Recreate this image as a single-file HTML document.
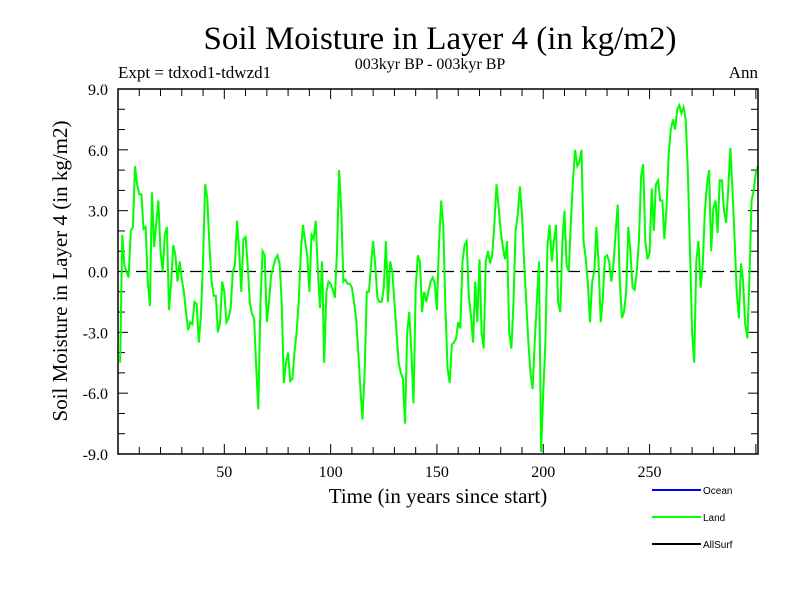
<!DOCTYPE html>
<html><head><meta charset="utf-8"><style>
html,body{margin:0;padding:0;background:#fff;}
svg text{font-family:"Liberation Serif",serif;}
</style></head><body>
<svg id="chart" width="800" height="600" viewBox="0 0 800 600" xmlns="http://www.w3.org/2000/svg">
<text x="440" y="49" font-size="33" text-anchor="middle">Soil Moisture in Layer 4 (in kg/m2)</text>
<text x="118" y="78" font-size="17">Expt = tdxod1-tdwzd1</text>
<text x="430" y="69" font-size="16" text-anchor="middle">003kyr BP - 003kyr BP</text>
<text x="758" y="78" font-size="17" text-anchor="end">Ann</text>
<g id="ticks"></g>
<g id="plot"></g>
<rect x="118" y="89" width="640" height="365" fill="none" stroke="#000" stroke-width="1.5"/>
<text x="438" y="503" font-size="21" text-anchor="middle">Time (in years since start)</text>
<text transform="translate(67,271) rotate(-90)" font-size="21" text-anchor="middle">Soil Moisture in Layer 4 (in kg/m2)</text>
<g>
<g><line x1="652" y1="490" x2="701" y2="490" stroke="#0000ff" stroke-width="2"/><text x="703" y="494" font-size="10" style="font-family:'Liberation Sans',sans-serif">Ocean</text></g>
<g><line x1="652" y1="517" x2="701" y2="517" stroke="#00ff00" stroke-width="2"/><text x="703" y="521" font-size="10" style="font-family:'Liberation Sans',sans-serif">Land</text></g>
<g><line x1="652" y1="544" x2="701" y2="544" stroke="#000" stroke-width="2"/><text x="703" y="548" font-size="10" style="font-family:'Liberation Sans',sans-serif">AllSurf</text></g>
</g>
</svg>
<script>
const yTickValues=[-9,-6,-3,0,3,6,9];
const yTickLabels=["-9.0","-6.0","-3.0","0.0","3.0","6.0","9.0"];
const xTickValues=[50,100,150,200,250];
const xTickLabels=["50","100","150","200","250"];
const landValues=[
-4.5,1.8,0.3,0.0,-0.3,2.0,2.2,5.2,4.3,3.8,3.8,2.1,2.2,-0.5,-1.7,3.9,1.2,2.4,3.5,1.0,
0.0,1.8,2.2,-1.9,-0.5,1.3,0.8,-0.5,0.5,-0.4,-1.0,-2.0,-2.9,-2.5,-2.6,-1.5,-1.6,-3.5,-2.2,0.5,
4.3,3.6,1.3,-0.5,-1.2,-1.2,-3.0,-2.5,-0.5,-1.0,-2.5,-2.3,-1.8,0.0,0.3,2.5,1.0,-1.0,1.6,1.7,
0.3,-1.5,-2.1,-2.3,-4.7,-6.8,-1.5,1.0,0.8,-2.5,-1.5,-0.2,0.2,0.6,0.8,0.4,-1.5,-5.5,-4.5,-4.0,
-5.4,-5.3,-4.0,-3.0,-1.5,1.0,2.3,1.5,0.8,-1.0,1.8,1.6,2.5,0.0,-1.8,0.5,-4.5,-1.0,-0.5,-0.6,
-0.9,-1.3,1.0,5.0,3.0,-0.5,-0.4,-0.6,-0.6,-0.8,-1.5,-2.3,-4.0,-5.8,-7.3,-5.0,-1.0,-1.0,0.3,1.5,
0.3,-1.3,-1.5,-1.5,-0.8,1.5,-1.5,0.5,0.0,-1.5,-3.0,-4.5,-5.0,-5.3,-7.5,-3.0,-2.0,-4.0,-6.5,-0.8,
0.8,0.5,-2.0,-1.0,-1.5,-1.0,-0.5,-0.3,-0.6,-1.9,1.5,3.5,2.2,-1.8,-4.8,-5.5,-3.6,-3.5,-3.3,-2.5,
-2.8,0.5,1.3,1.5,-1.2,-2.2,-3.5,-0.5,-2.5,0.6,-3.0,-3.8,0.5,1.0,0.4,0.8,2.3,4.3,3.2,2.0,
1.2,0.6,1.5,-3.0,-3.8,-1.5,2.0,2.8,4.2,2.8,0.5,-1.5,-3.5,-5.0,-5.8,-3.5,-1.5,0.5,-8.9,-6.0,
-3.5,1.3,2.3,0.5,1.5,2.3,-1.5,-2.0,1.5,3.0,0.3,0.0,2.5,4.5,6.0,5.2,5.4,6.0,1.5,0.6,
-0.6,-2.5,-0.5,0.0,2.2,0.5,-2.5,-1.3,0.7,0.8,0.5,-0.5,0.3,1.8,3.3,-0.5,-2.3,-2.0,-1.0,2.2,
1.0,-0.8,-0.9,0.0,1.5,4.7,5.3,1.5,0.6,0.9,4.1,2.0,4.3,4.5,3.5,3.5,1.6,3.2,5.8,7.0,
7.5,7.0,8.0,8.2,7.8,8.1,7.5,5.0,1.0,-3.0,-4.5,0.5,1.5,-0.8,0.3,2.9,4.3,5.0,1.0,3.1,
3.5,1.9,4.5,4.5,3.0,2.4,4.0,6.1,4.0,1.6,-1.0,-2.3,0.4,-0.5,-2.6,-3.3,-0.2,3.5,4.0,4.9,5.2
];
const firstYear=1;
const X0=118,X1=758,Y0=454,Y1=89,XMIN=0,XMAX=301,YMIN=-9,YMAX=9;
function xs(v){return X0+(v-XMIN)/(XMAX-XMIN)*(X1-X0);}
function ys(v){return Y0-(v-YMIN)/(YMAX-YMIN)*(Y0-Y1);}
const NS="http://www.w3.org/2000/svg";
const tg=document.getElementById('ticks');
const pg=document.getElementById('plot');
function mk(tag,attrs,parent){const e=document.createElementNS(NS,tag);for(const k in attrs)e.setAttribute(k,attrs[k]);parent.appendChild(e);return e;}
// minor y ticks
for(let v=YMIN;v<=YMAX;v++){
  const y=ys(v);const len=(v%3===0)?10:7;
  const a=mk('line',{x1:X0,y1:y,x2:X0+len,y2:y,stroke:'#000','stroke-width':1},tg);
  
  
  const b=mk('line',{x1:X1,y1:y,x2:X1-len,y2:y,stroke:'#000','stroke-width':1},tg);
  
  
}
for(let v=10;v<XMAX;v+=10){
  const x=xs(v);const len=(v%50===0)?10:7;
  const a=mk('line',{x1:x,y1:Y0,x2:x,y2:Y0-len,stroke:'#000','stroke-width':1},tg);
  
  
  const b=mk('line',{x1:x,y1:Y1,x2:x,y2:Y1+len,stroke:'#000','stroke-width':1},tg);
  
  
}
yTickValues.forEach((v,i)=>{
  const t=mk('text',{x:108,y:ys(v)+6,'font-size':16,'text-anchor':'end'},tg);
  t.textContent=yTickLabels[i];
  
  
});
xTickValues.forEach((v,i)=>{
  const t=mk('text',{x:xs(v),y:477,'font-size':16,'text-anchor':'middle'},tg);
  t.textContent=xTickLabels[i];
  
  
});
const zl=mk('line',{x1:X0,y1:ys(0),x2:X1,y2:ys(0),stroke:'#000','stroke-width':1.2,'stroke-dasharray':'12,6'},pg);


let d='';
landValues.forEach((v,i)=>{d+=(i?'L':'M')+xs(firstYear+i).toFixed(1)+','+ys(v).toFixed(1);});
const ln=mk('path',{d:d,fill:'none',stroke:'#00ff00','stroke-width':2,'stroke-linejoin':'miter'},pg);


</script>
</body></html>
